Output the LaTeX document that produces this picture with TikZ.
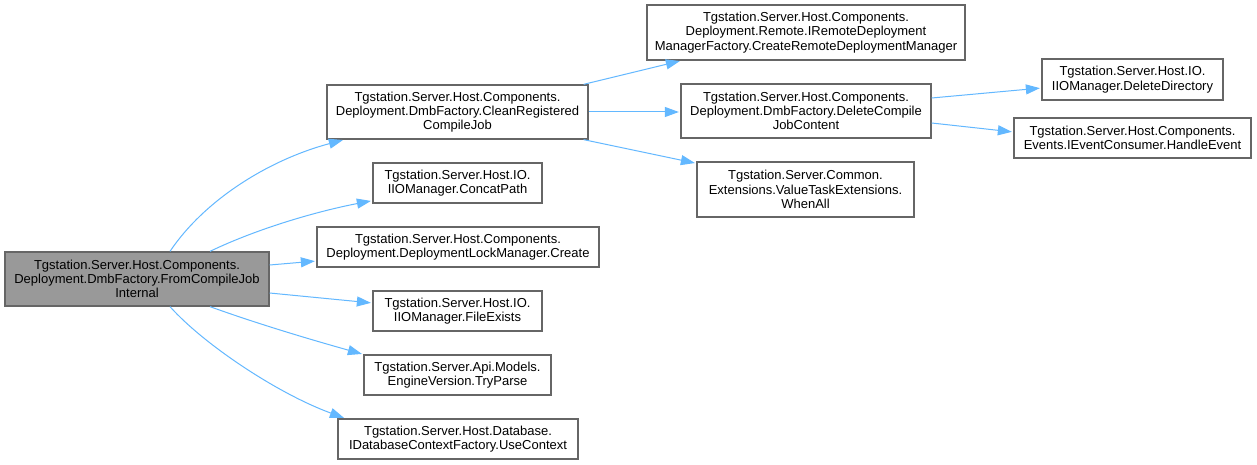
\documentclass[tikz,border=0pt]{standalone}
\usepackage{fontspec}
\setmainfont{Liberation Sans}
\usetikzlibrary{arrows.meta,calc}
\definecolor{edgeblue}{HTML}{63B8FF}
\definecolor{boxborder}{HTML}{666666}
\definecolor{mainfill}{HTML}{999999}
\begin{document}
\begin{tikzpicture}[x=1pt,y=-1pt,
  box/.style={draw=boxborder, line width=1.3pt, fill=white, inner sep=0pt, align=center,
    font=\fontsize{13}{14.3}\selectfont, text=black},
  edge/.style={draw=edgeblue, line width=1pt, -{Triangle[length=14pt,width=10pt]}, shorten >=1.5pt}]
\useasboundingbox (0,0) rectangle (1257,465);
\fill[white] (0,0) rectangle (1257,465);

\node[box, fill=mainfill, minimum width=264pt, minimum height=54pt] (main) at (137,279)
  {Tgstation.Server.Host.Components.\\Deployment.DmbFactory.FromCompileJob\\Internal};
\node[box, minimum width=261pt, minimum height=54pt] (clean) at (457.5,112)
  {Tgstation.Server.Host.Components.\\Deployment.DmbFactory.CleanRegistered\\CompileJob};
\node[box, minimum width=169pt, minimum height=40pt] (concat) at (457.5,183)
  {Tgstation.Server.Host.IO.\\IIOManager.ConcatPath};
\node[box, minimum width=282pt, minimum height=40pt] (create) at (458,247)
  {Tgstation.Server.Host.Components.\\Deployment.DeploymentLockManager.Create};
\node[box, minimum width=169pt, minimum height=40pt] (fileexists) at (457.5,311)
  {Tgstation.Server.Host.IO.\\IIOManager.FileExists};
\node[box, minimum width=187pt, minimum height=40pt] (tryparse) at (457.5,375)
  {Tgstation.Server.Api.Models.\\EngineVersion.TryParse};
\node[box, minimum width=240pt, minimum height=40pt] (usecontext) at (458,439)
  {Tgstation.Server.Host.Database.\\IDatabaseContextFactory.UseContext};
\node[box, minimum width=318pt, minimum height=55pt] (remote) at (806,32.5)
  {Tgstation.Server.Host.Components.\\Deployment.Remote.IRemoteDeployment\\ManagerFactory.CreateRemoteDeploymentManager};
\node[box, minimum width=250pt, minimum height=54pt] (deletecompile) at (806,111)
  {Tgstation.Server.Host.Components.\\Deployment.DmbFactory.DeleteCompile\\JobContent};
\node[box, minimum width=217pt, minimum height=55pt] (whenall) at (805.5,189.5)
  {Tgstation.Server.Common.\\Extensions.ValueTaskExtensions.\\WhenAll};
\node[box, minimum width=181pt, minimum height=41pt] (deletedir) at (1132.5,79.5)
  {Tgstation.Server.Host.IO.\\IIOManager.DeleteDirectory};
\node[box, minimum width=237pt, minimum height=40pt] (handleevent) at (1132.5,138)
  {Tgstation.Server.Host.Components.\\Events.IEventConsumer.HandleEvent};

% edges from main
\draw[edge] ($(main.north)+(33,0)$) .. controls +(35,-52) and +(-75,20) .. ($(clean.south west)+(18,0)$);
\draw[edge] ($(main.north)+(73,0)$) .. controls +(50,-24) and +(-52,10) .. ($(concat.south west)+(0,-3)$);
\draw[edge] ($(main.east)+(0,-14)$) -- ($(create.west)+(0,14)$);
\draw[edge] ($(main.east)+(0,14)$) -- ($(fileexists.west)+(0,-8)$);
\draw[edge] ($(main.south)+(73,0)$) .. controls +(50,18) and +(-50,-14) .. (tryparse.north west);
\draw[edge] ($(main.south)+(33,0)$) .. controls +(35,39) and +(-66,-24) .. ($(usecontext.north west)+(8,0)$);
% edges from clean
\draw[edge] ($(clean.north east)+(-5,0)$) -- ($(remote.south west)+(35,0)$);
\draw[edge] (clean.east) -- (clean.east -| deletecompile.west);
\draw[edge] ($(clean.south east)+(-5,0)$) -- ($(whenall.north west)+(0,2)$);
% edges from deletecompile
\draw[edge] ($(deletecompile.east)+(0,-13)$) -- ($(deletedir.west)+(0,8.5)$);
\draw[edge] ($(deletecompile.east)+(0,12)$) -- ($(handleevent.west)+(0,-6)$);
\end{tikzpicture}
\end{document}
